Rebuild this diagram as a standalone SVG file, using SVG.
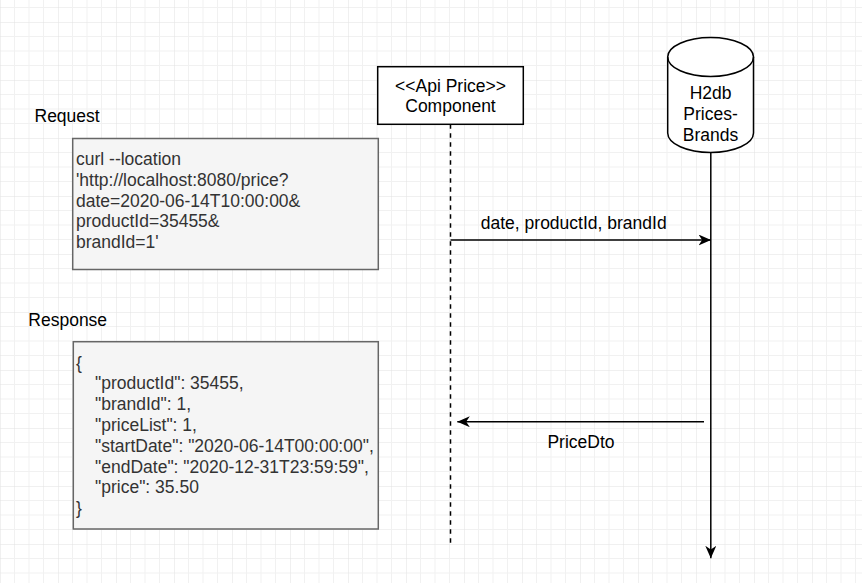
<svg xmlns="http://www.w3.org/2000/svg" width="862" height="583" viewBox="0 0 862 583">
  <defs>
    <pattern id="grid" patternUnits="userSpaceOnUse" x="0" y="22" width="58" height="58">
      <path d="M14.5,0V58M29,0V58M43.5,0V58M0,14.5H58M0,29H58M0,43.5H58" fill="none" stroke="#f1f1f1" stroke-width="1"/>
      <path d="M0,0V58M0,0H58" fill="none" stroke="#e2e2e2" stroke-width="1"/>
    </pattern>
    <marker id="arrow" markerUnits="userSpaceOnUse" markerWidth="14" markerHeight="12" refX="12.5" refY="5.5" orient="auto">
      <path d="M0,0 L12.5,5.5 L0,11 L3.6,5.5 Z" fill="#000"/>
    </marker>
  </defs>
  <style>
    .t { font-family: "Liberation Sans", Arial, sans-serif; font-size: 17.5px; fill: #000; }
    .g { fill: #333333; }
    .box { fill: #f5f5f5; stroke: #666666; stroke-width: 1.5; }
    .shape { fill: #ffffff; stroke: #000; stroke-width: 1.5; }
    .c { text-anchor: middle; }
  </style>
  <rect width="862" height="583" fill="#ffffff"/>
  <rect width="862" height="583" fill="url(#grid)"/>

  <g id="label-request"><text class="t" x="34.5" y="122.3">Request</text></g>
  <g id="label-response"><text class="t" x="28.3" y="325.7">Response</text></g>

  <g id="request-box">
    <rect class="box" x="72.7" y="138.5" width="305.6" height="131"/>
    <text class="t g" x="76" y="165">curl --location</text>
    <text class="t g" x="76" y="185.8">'http://localhost:8080/price?</text>
    <text class="t g" x="76" y="206.6">date=2020-06-14T10:00:00&amp;</text>
    <text class="t g" x="76" y="227.4">productId=35455&amp;</text>
    <text class="t g" x="76" y="248.2">brandId=1'</text>
  </g>

  <g id="response-box">
    <rect class="box" x="73.3" y="341.7" width="305" height="187.3"/>
    <text class="t g" x="76" y="368.5">{</text>
    <text class="t g" x="95" y="389.3">"productId": 35455,</text>
    <text class="t g" x="95" y="410.1">"brandId": 1,</text>
    <text class="t g" x="95" y="430.9">"priceList": 1,</text>
    <text class="t g" x="95" y="451.7">"startDate": "2020-06-14T00:00:00",</text>
    <text class="t g" x="95" y="472.5">"endDate": "2020-12-31T23:59:59",</text>
    <text class="t g" x="95" y="493.3">"price": 35.50</text>
    <text class="t g" x="76" y="514.1">}</text>
  </g>

  <g id="api-component">
    <rect class="shape" x="377.7" y="66.7" width="145.6" height="57.6"/>
    <text class="t c" x="450.5" y="91.7">&lt;&lt;Api Price&gt;&gt;</text>
    <text class="t c" x="450.5" y="112.4">Component</text>
  </g>

  <g id="h2db">
    <path class="shape" d="M667.7,57 A42.9,19.5 0 0 1 753.5,57 V133 A42.9,19.5 0 0 1 667.7,133 Z"/>
    <path d="M667.7,57 A42.9,19.5 0 0 0 753.5,57" fill="none" stroke="#000" stroke-width="1.5"/>
    <text class="t c" x="710.6" y="99">H2db</text>
    <text class="t c" x="710.6" y="120">Prices-</text>
    <text class="t c" x="710.6" y="141">Brands</text>
  </g>

  <g id="connectors" fill="none" stroke="#000" stroke-width="1.5">
    <line x1="450.5" y1="124.3" x2="450.5" y2="545" stroke-dasharray="4.5 4.5"/>
    <line x1="710.8" y1="152.5" x2="710.8" y2="558.3" marker-end="url(#arrow)"/>
    <line x1="450.5" y1="240" x2="711" y2="240" marker-end="url(#arrow)"/>
    <line x1="704" y1="421.7" x2="457.3" y2="421.7" marker-end="url(#arrow)"/>
  </g>
  <g id="connector-labels">
    <text class="t c" x="573.7" y="229.3">date, productId, brandId</text>
    <text class="t c" x="581" y="448.3">PriceDto</text>
  </g>
</svg>
